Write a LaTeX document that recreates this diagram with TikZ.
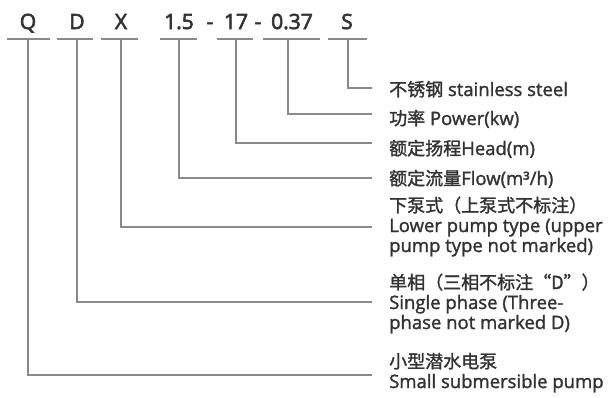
\documentclass[tikz,border=0pt]{standalone}
\usepackage{fontspec}
\setmainfont{Open Sans}[FakeBold=1.5]
\newfontfamily\codefam{Open Sans}[FakeBold=3]
\newfontfamily\cjkfam{Noto Sans CJK SC}[FakeBold=1.5]
\newcommand\zhtxt[1]{{\cjkfam\fontsize{18}{20}\selectfont #1}}
\definecolor{txt}{HTML}{333333}
\definecolor{ln}{HTML}{8A8A8A}
\begin{document}
\begin{tikzpicture}[x=1pt,y=-1pt,
  code/.style={font=\codefam\fontsize{21}{21}\selectfont, text=txt, inner sep=0pt, anchor=base},
  desc/.style={font=\fontsize{18.5}{20}\selectfont, text=txt, inner sep=0pt, anchor=base west},
  lead/.style={draw=ln, line width=1.1pt},
  ul/.style={draw=ln, line width=1.1pt}]
\useasboundingbox[fill=white] (0,0) rectangle (611,397);

% code letters
\node[code] (lq) at (28,29) {Q};
\node[code] (ld) at (77,29) {D};
\node[code] (lx) at (121,29) {X};
\node[code] (lf) at (179,29) {1.5};
\node[code] (h1) at (210,29) {-};
\node[code] (lh) at (236,29) {17};
\node[code] (h2) at (258,29) {-};
\node[code] (lp) at (292,29) {0.37};
\node[code] (ls) at (347,29) {S};

% underline anchors
\coordinate (uq) at (28,39);
\coordinate (ud) at (77,39);
\coordinate (ux) at (121,39);
\coordinate (uf) at (179,39);
\coordinate (uh) at (236,39);
\coordinate (up) at (288,39);
\coordinate (us) at (348,39);

\draw[ul] ([xshift=-21pt]uq) -- ([xshift=22pt]uq);
\draw[ul] ([xshift=-20pt]ud) -- ([xshift=16pt]ud);
\draw[ul] ([xshift=-20pt]ux) -- ([xshift=17pt]ux);
\draw[ul] ([xshift=-19pt]uf) -- ([xshift=18pt]uf);
\draw[ul] ([xshift=-19pt]uh) -- ([xshift=17pt]uh);
\draw[ul] ([xshift=-25pt]up) -- ([xshift=32pt]up);
\draw[ul] ([xshift=-20pt]us) -- ([xshift=19pt]us);

% lead ends
\coordinate (es) at (372,88);
\coordinate (ep) at (372,114);
\coordinate (eh) at (372,143);
\coordinate (ef) at (372,178);
\coordinate (ex) at (372,227);
\coordinate (ed) at (372,302);
\coordinate (eq) at (372,375);

\draw[lead] (us) |- (es);
\draw[lead] (up) |- (ep);
\draw[lead] (uh) |- (eh);
\draw[lead] (uf) |- (ef);
\draw[lead] (ux) |- (ex);
\draw[lead] (ud) |- (ed);
\draw[lead] (uq) |- (eq);

% descriptions
\node[desc] (ts) at (389,96) {\zhtxt{不锈钢} stainless steel};
\node[desc] (tp) at (389,125) {\zhtxt{功率} Power(kw)};
\node[desc] (th) at (389,155) {\zhtxt{额定扬程}Head(m)};
\node[desc] (tf) at (389,185) {\zhtxt{额定流量}Flow(m³/h)};
\node[desc] (tx1) at (389,212) {\zhtxt{下泵式（上泵式不标注）}};
\node[desc] (tx2) at (389,232) {Lower pump type (upper};
\node[desc] (tx3) at (389,252) {pump type not marked)};
\node[desc] (td1) at (389,289) {\zhtxt{单相（三相不标注“D”）}};
\node[desc] (td2) at (389,309) {Single phase (Three-};
\node[desc] (td3) at (389,329) {phase not marked D)};
\node[desc] (tq1) at (389,368) {\zhtxt{小型潜水电泵}};
\node[desc] (tq2) at (389,388) {Small submersible pump};
\end{tikzpicture}
\end{document}
